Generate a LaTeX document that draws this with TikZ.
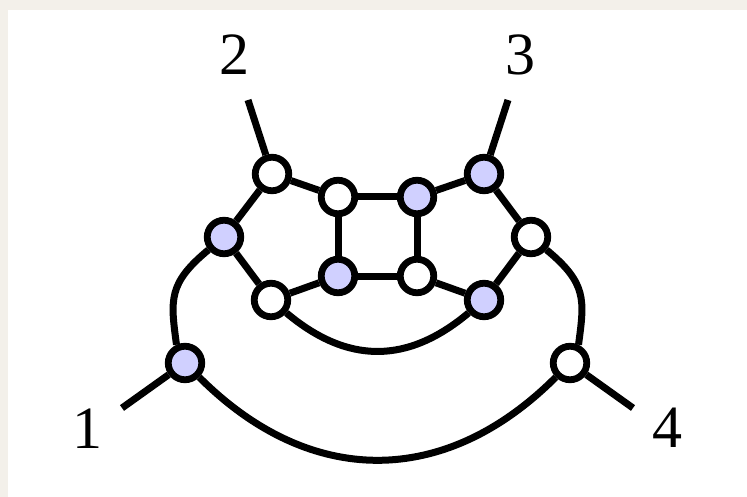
\documentclass[tikz,border=0pt]{standalone}
\usepackage{fontspec}
\setmainfont{Liberation Serif}
\definecolor{vblue}{RGB}{208,208,255}
\definecolor{paper}{RGB}{243,240,234}
\begin{document}
\begin{tikzpicture}[x=1pt,y=-1pt,
  vtx/.style={circle,draw=black,line width=6.8pt,minimum size=33.5pt,inner sep=0pt},
  wv/.style={vtx,fill=white},
  bv/.style={vtx,fill=vblue},
  conn/.style={line width=7pt},
  lbl/.style={font=\fontsize{60}{60}\selectfont,inner sep=0pt}]
\useasboundingbox (0,0) rectangle (747,497);
\fill[paper] (0,0) rectangle (747,497);
\fill[white] (8,10) rectangle (747,497);
% vertices
\node[wv] (A) at (272,174) {};
\node[bv] (B) at (484,174) {};
\node[bv] (C) at (224,237) {};
\node[wv] (D) at (531,237) {};
\node[wv] (E) at (271,300) {};
\node[bv] (F) at (484,300) {};
\node[wv] (G) at (338,197) {};
\node[bv] (H) at (417,197) {};
\node[bv] (I) at (338,276) {};
\node[wv] (J) at (417,276) {};
\node[bv] (K) at (185,363) {};
\node[wv] (L) at (570,363) {};
% free ends
\coordinate (t2) at (248,100);
\coordinate (t3) at (508,100);
\coordinate (t1) at (122,408);
\coordinate (t4) at (633,408);
% labels
\node[lbl] (l2) at (234,55) {2};
\node[lbl] (l3) at (520,55) {3};
\node[lbl] (l1) at (87,429) {1};
\node[lbl] (l4) at (667,428) {4};
% edges
\draw[conn] (A) -- (G);
\draw[conn] (G) -- (H);
\draw[conn] (H) -- (B);
\draw[conn] (A) -- (C);
\draw[conn] (C) -- (E);
\draw[conn] (E) -- (I);
\draw[conn] (I) -- (J);
\draw[conn] (J) -- (F);
\draw[conn] (F) -- (D);
\draw[conn] (D) -- (B);
\draw[conn] (G) -- (I);
\draw[conn] (H) -- (J);
\draw[conn] (t2) -- (A);
\draw[conn] (t3) -- (B);
\draw[conn] (t1) -- (K);
\draw[conn] (t4) -- (L);
% curves
\draw[conn] (E) .. controls +(76.6,64.3) and +(-76.6,64.3) .. (F);
\draw[conn] (K) .. controls +(125,125) and +(-125,125) .. (L);
\draw[conn] (C) .. controls +(-56.1,46.4) and +(-6,-45) .. (K.115);
\draw[conn] (D) .. controls +(56.1,46.4) and +(6,-45) .. (L.65);
\end{tikzpicture}
\end{document}
